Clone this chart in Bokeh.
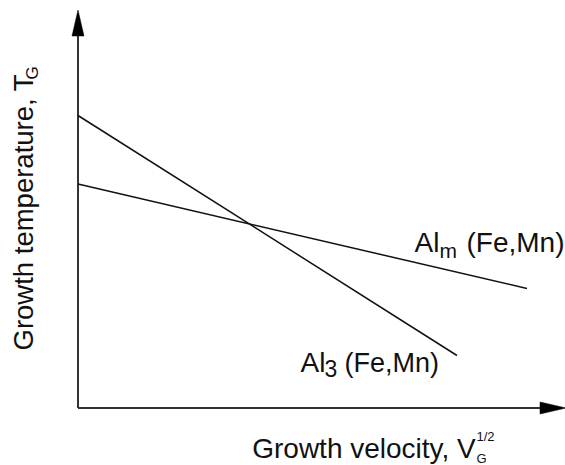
import math

from bokeh.embed import file_html
from bokeh.models import Label, Range1d
from bokeh.plotting import figure
from bokeh.resources import INLINE

# Schematic growth-temperature lines (arbitrary units, origin at the axis corner)
velocity_al3 = [0.0, 37.9]
temperature_al3 = [29.25, 5.25]
velocity_alm = [0.0, 44.9]
temperature_alm = [22.4, 11.95]

# Axis extents (arrow tips)
x_axis_end = 48.8
y_axis_end = 39.8

FONT = "Liberation Sans"
INK = "#111111"

p = figure(
    width=565,
    height=465,
    x_range=Range1d(-7.75, 48.75),
    y_range=Range1d(-5.75, 40.75),
    output_backend="svg",
    toolbar_location=None,
    min_border=0,
)
p.xaxis.visible = False
p.yaxis.visible = False
p.xgrid.visible = False
p.ygrid.visible = False
p.outline_line_color = None

# Axes with arrow heads (head sizes in data units, 1 unit = 10 px)
head_len, head_half = 2.6, 0.6
p.segment(x0=[0, 0], y0=[0, 0], x1=[x_axis_end - head_len, 0],
          y1=[0, y_axis_end - head_len], line_color="#333333", line_width=2)
p.patches(
    xs=[[x_axis_end, x_axis_end - head_len, x_axis_end - head_len],
        [0, -head_half, head_half]],
    ys=[[0, head_half, -head_half],
        [y_axis_end, y_axis_end - head_len, y_axis_end - head_len]],
    fill_color="black", line_color="black", line_width=0.5,
)

# The two phase lines
p.line(velocity_al3, temperature_al3, line_color=INK, line_width=1.5)
p.line(velocity_alm, temperature_alm, line_color=INK, line_width=1.5)


def label(x, y, text, size, angle=0.0):
    # lift the glyphs so that (x, y) sits on the alphabetic baseline
    lift = 0.38 * size
    dx, dy = (-lift, 0.0) if angle else (0.0, lift)
    p.add_layout(Label(
        x=x, y=y, text=text, angle=angle, x_offset=dx, y_offset=dy,
        text_font=FONT, text_font_size=f"{size}px", text_color=INK,
        text_align="left", text_baseline="alphabetic",
    ))


# Y axis title: Growth temperature, T_G
label(-4.4, 5.75, "Growth temperature, T", 27.5, math.pi / 2)
label(-3.95, 32.85, "G", 17, math.pi / 2)

# X axis title: Growth velocity, V_G^(1/2)
label(17.42, -5.15, "Growth velocity, V", 28)
label(39.85, -5.55, "G", 13)
label(39.85, -3.35, "1/2", 13)

# Line labels
label(22.25, 3.45, "Al", 28)
label(24.65, 3.1, "3", 23)
label(26.65, 3.45, "(Fe,Mn)", 27)

label(33.65, 15.5, "Al", 28)
label(36.15, 14.95, "m", 21)
label(38.85, 15.5, "(Fe,Mn)", 28)

open("out.html", "w").write(file_html(p, INLINE))
